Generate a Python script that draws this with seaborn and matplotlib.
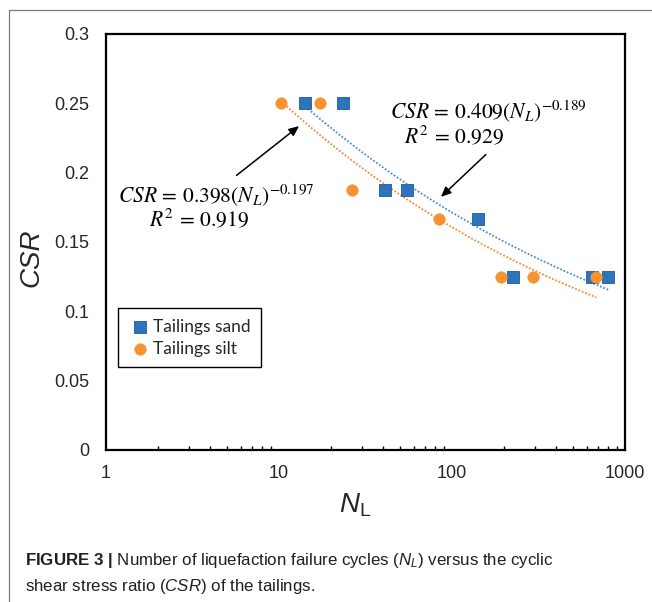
import numpy as np
import pandas as pd
import matplotlib
matplotlib.use("Agg")
import matplotlib.pyplot as plt
from matplotlib.lines import Line2D
import seaborn as sns

# Cyclic triaxial results: cycles to liquefaction vs cyclic stress ratio
sand_NL = [14.2, 23.3, 41.1, 55.2, 141, 225, 645, 800]
sand_CSR = [0.25, 0.25, 0.1875, 0.1875, 0.1667, 0.125, 0.125, 0.125]
silt_NL = [10.3, 17.2, 26.4, 84.3, 192, 294, 683]
silt_CSR = [0.25, 0.25, 0.1875, 0.1667, 0.125, 0.125, 0.125]

# Power-law fits CSR = a * NL^b
sand_fit = (0.409, -0.189, 0.929)
silt_fit = (0.398, -0.197, 0.919)

series_names = ["Tailings sand", "Tailings silt"]
yticks = [0, 0.05, 0.1, 0.15, 0.2, 0.25, 0.3]
ytick_labels = ["0", "0.05", "0.1", "0.15", "0.2", "0.25", "0.3"]
xticks = [1, 10, 100, 1000]
xtick_labels = ["1", "10", "100", "1000"]

BLUE = "#2e74bd"
BLUE_EDGE = "#1d5b9a"
BLUE_LINE = "#4a8fd0"
ORANGE = "#f79230"
ORANGE_LINE = "#f58a3a"

sns.set_theme(style="white")
plt.rcParams["font.family"] = ["Liberation Sans", "DejaVu Sans"]
plt.rcParams["mathtext.fontset"] = "custom"
plt.rcParams["mathtext.rm"] = "Liberation Sans"
plt.rcParams["mathtext.it"] = "Liberation Sans:italic"
plt.rcParams["mathtext.bf"] = "Liberation Sans:bold"

sand = pd.DataFrame({"NL": sand_NL, "CSR": sand_CSR})
silt = pd.DataFrame({"NL": silt_NL, "CSR": silt_CSR})

fig = plt.figure(figsize=(6.52, 6.02), dpi=100)
ax = fig.add_axes([106 / 652, 1 - 450 / 602, 519 / 652, 416 / 602])

# Trend lines
for df, (a, b, _), col in [(sand, sand_fit, BLUE_LINE), (silt, silt_fit, ORANGE_LINE)]:
    n = np.geomspace(df["NL"].min(), df["NL"].max(), 200)
    fit = pd.DataFrame({"NL": n, "CSR": a * n ** b})
    sns.lineplot(data=fit, x="NL", y="CSR", ax=ax, color=col, lw=1.3,
                 linestyle=(0, (1, 1)), legend=False, zorder=2)

sns.scatterplot(data=sand, x="NL", y="CSR", ax=ax, marker="s", s=66,
                color=BLUE, edgecolor=BLUE_EDGE, linewidth=0.6,
                label=series_names[0], zorder=3)
sns.scatterplot(data=silt, x="NL", y="CSR", ax=ax, marker="o", s=70,
                color=ORANGE, edgecolor=ORANGE, linewidth=0.3,
                label=series_names[1], zorder=3)

ax.set_xscale("log")
ax.set_xlim(1, 1000)
ax.set_ylim(0, 0.3)
ax.set_xticks(xticks)
ax.set_xticklabels(xtick_labels, fontsize=13)
ax.set_yticks(yticks)
ax.set_yticklabels(ytick_labels, fontsize=13)
ax.tick_params(axis="both", which="major", direction="in", length=4, width=1,
               color="black")
ax.tick_params(axis="x", which="minor", direction="in", length=3, width=1,
               color="black", bottom=True)
ax.tick_params(axis="y", which="major", pad=12)
ax.tick_params(axis="x", which="major", pad=11)
for sp in ax.spines.values():
    sp.set_color("black")
    sp.set_linewidth(1.6)

ax.set_xlabel(r"$N_\mathregular{L}$", fontsize=20)
ax.set_ylabel("CSR", fontsize=20, style="italic")
ax.xaxis.set_label_coords((355 - 106) / 519, (450 - 505) / 416)
ax.yaxis.set_label_coords((31 - 106) / 519, (450 - 258) / 416)
ax.xaxis.label.set_va("center")
ax.yaxis.label.set_va("center")

# Equations and arrows
eq_kw = dict(fontsize=15.5, math_fontfamily="stix", color="black", va="center", ha="left")
ax.text(44, 0.244, r"$CSR\,=\,%.3f(N_L)^{%.3f}$" % (sand_fit[0], sand_fit[1]), **eq_kw)
ax.text(53, 0.226, r"$R^2\,=\,%.3f$" % sand_fit[2], **eq_kw)
ax.text(1.18, 0.183, r"$CSR\,=\,%.3f(N_L)^{%.3f}$" % (silt_fit[0], silt_fit[1]), **eq_kw)
ax.text(1.77, 0.166, r"$R^2\,=\,%.3f$" % silt_fit[2], **eq_kw)

arrow = dict(arrowstyle="-|>,head_length=0.5,head_width=0.22", color="black", lw=1.1,
             shrinkA=0, shrinkB=0)
ax.annotate("", xy=(13.06, 0.2336), xytext=(5.68, 0.198), arrowprops=arrow)
ax.annotate("", xy=(86.3, 0.1825), xytext=(157, 0.2131), arrowprops=arrow)

leg = ax.legend(loc="lower left", bbox_to_anchor=(0.023, 0.1995), borderaxespad=0,
                frameon=True, fancybox=False, framealpha=1, edgecolor="black",
                prop={"family": "Lato", "size": 12.5}, handletextpad=0.1,
                handlelength=1.3, borderpad=0.6, labelspacing=0.35)
leg.get_frame().set_linewidth(1.0)

# Page frame
fig.add_artist(Line2D([9 / 652, 1], [1 - 10 / 602] * 2, color="#7a7a7a", lw=0.9,
                      transform=fig.transFigure))
fig.add_artist(Line2D([9 / 652] * 2, [1 - 10 / 602, 0], color="#7a7a7a", lw=0.9,
                      transform=fig.transFigure))

# Caption
cap_kw = dict(fontsize=12.2, color="#231f20", ha="left", va="baseline")
fig.text(25 / 652, 1 - 565 / 602,
         r"$\mathbf{FIGURE\ 3\ |}$ Number of liquefaction failure cycles ($N_L$) versus the cyclic",
         **cap_kw)
fig.text(25 / 652, 1 - 591 / 602,
         r"shear stress ratio ($CSR$) of the tailings.", **cap_kw)

fig.savefig("out.png", dpi=100)
